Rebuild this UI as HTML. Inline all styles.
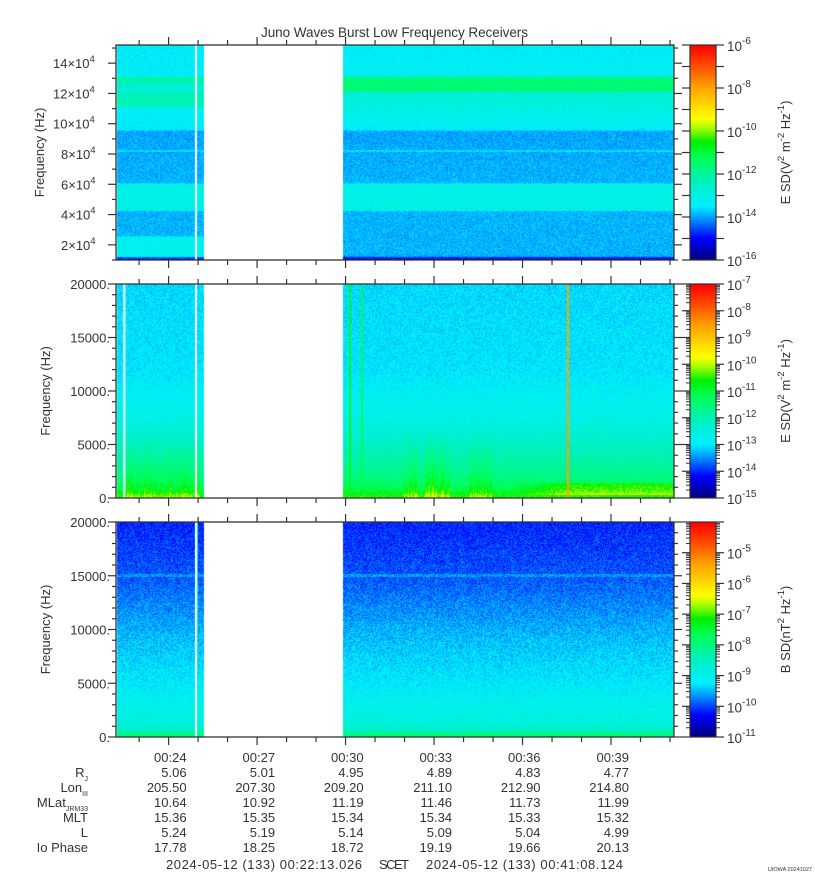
<!DOCTYPE html>
<html><head><meta charset="utf-8">
<style>
body{margin:0;background:#fff;width:815px;height:880px;overflow:hidden;position:relative;font-family:"Liberation Sans","DejaVu Sans",sans-serif;}
canvas{position:absolute;}
svg{position:absolute;left:0;top:0;}
text{font-family:"Liberation Sans","DejaVu Sans",sans-serif;fill:#333;}
</style></head>
<body>
<canvas id="c1" width="558" height="215" style="left:116px;top:45px"></canvas>
<canvas id="c2" width="558" height="214" style="left:116px;top:284px"></canvas>
<canvas id="c3" width="558" height="215" style="left:116px;top:522px"></canvas>
<canvas id="cb1" width="26" height="215" style="left:690px;top:45px"></canvas>
<canvas id="cb2" width="26" height="214" style="left:690px;top:284px"></canvas>
<canvas id="cb3" width="26" height="215" style="left:690px;top:522px"></canvas>
<svg id="svg" width="815" height="880"></svg>
<script>
// ---- data ----
const T_TOTAL = 1135.1; // seconds 00:22:13.026 -> 00:41:08.124
const gapStart = 179, gapEnd = 462, whiteLine = 163, whiteLine2 = 17;
const timeLabels = ["00:24","00:27","00:30","00:33","00:36","00:39"];
const timeLabelSecs = [107,287,467,647,827,1007];
const rowRj = ["5.06","5.01","4.95","4.89","4.83","4.77"];
const rowLon = ["205.50","207.30","209.20","211.10","212.90","214.80"];
const rowMlat = ["10.64","10.92","11.19","11.46","11.73","11.99"];
const rowMlt = ["15.36","15.35","15.34","15.34","15.33","15.32"];
const rowL = ["5.24","5.19","5.14","5.09","5.04","4.99"];
const rowIo = ["17.78","18.25","18.72","19.19","19.66","20.13"];
// panel 1 profiles: frequency (Hz) -> log10 E SD
const p1Freq =       [10000, 11500, 12500, 25000, 26000, 42000, 43000, 57000, 58000, 60000, 61000, 95000, 96000, 110000, 112000, 120000, 122000, 130000, 132000, 152000];
const p1EarlyLevel = [-15.0, -14.5, -13.2, -13.2, -13.9, -13.9, -13.0, -13.1, -13.0, -13.2, -13.9, -14.0, -13.4, -13.3, -12.3, -12.3, -13.0, -12.0, -13.4, -13.4];
const p1LateLevel  = [-15.2, -14.8, -13.9, -13.9, -13.9, -13.9, -13.0, -13.1, -13.0, -13.2, -13.9, -14.0, -13.4, -13.0, -12.9, -12.8, -11.6, -11.6, -13.3, -13.4];
// panel 2 profile
const p2Freq  = [0, 250, 600, 1200, 2000, 3500, 5500, 8000, 12000, 20000];
const p2Level = [-10.5, -10.6, -11.0, -11.3, -11.6, -11.9, -12.3, -12.7, -13.0, -13.1];
const p2BurstStart = [16, 586, 628, 720];
const p2BurstEnd   = [170, 614, 679, 765];
const p2BurstBoost = [0.6, 0.8, 0.9, 0.8];
const p2LineTimes = [476, 500, 919];
const p2LineLevel = [-10.8, -11.2, -8.6];
const p2LateBandStart = 800, p2LateBandBoost = 0.7;
// panel 3 profile
const p3Freq  = [0, 350, 600, 1500, 5000, 10000, 15000, 20000];
const p3Level = [-7.9, -8.0, -8.6, -8.85, -9.2, -9.55, -9.95, -10.15];
const cbRange = [[-16,-6],[-15,-7],[-11,-4]];

// ---- colormap ----
const stops=[[0,[0,0,128]],[0.1,[0,0,255]],[0.19,[0,150,255]],[0.25,[0,240,255]],[0.35,[0,240,200]],[0.48,[0,255,80]],[0.55,[0,240,0]],[0.62,[180,255,0]],[0.66,[255,255,0]],[0.8,[255,165,0]],[0.9,[255,80,0]],[1,[255,0,0]]];
function cmap(v){v=Math.max(0,Math.min(1,v));for(let i=1;i<stops.length;i++){if(v<=stops[i][0]){const a=stops[i-1],b=stops[i];const u=(v-a[0])/(b[0]-a[0]);return [0,1,2].map(k=>Math.round(a[1][k]+(b[1][k]-a[1][k])*u));}}return [255,0,0];}
function interp(xs,ys,x){if(x<=xs[0])return ys[0];for(let i=1;i<xs.length;i++){if(x<=xs[i]){const u=(x-xs[i-1])/(xs[i]-xs[i-1]);return ys[i-1]+(ys[i]-ys[i-1])*u;}}return ys[ys.length-1];}
function hash(x,y){let h=(x*374761393+y*668265263)|0;h=(h^(h>>>13))*1274126177|0;return ((h^(h>>>16))>>>0)/4294967295*2-1;}

const W=558;
const tOf=px=>px/W*T_TOTAL;
function inGap(t){return (t>=gapStart&&t<gapEnd);}
function drawPanel(id,fMin,fMax,range,levelFn,noiseAmp){
  const c=document.getElementById(id),ctx=c.getContext('2d'),H=c.height;
  const img=ctx.createImageData(W,H);
  for(let px=0;px<W;px++){
    const t=tOf(px+0.5);
    for(let py=0;py<H;py++){
      const i=(py*W+px)*4;
      let white = px<1 || inGap(t) || Math.abs(t-whiteLine)<2.2;
      if(white){img.data[i]=img.data[i+1]=img.data[i+2]=255;img.data[i+3]=255;continue;}
      const f=fMax-(py+0.5)/H*(fMax-fMin);
      let lv=levelFn(t,f,px,py)+noiseAmp*hash(px,py+H*7);
      const col=cmap((lv-range[0])/(range[1]-range[0]));
      img.data[i]=col[0];img.data[i+1]=col[1];img.data[i+2]=col[2];img.data[i+3]=255;
    }
  }
  ctx.putImageData(img,0,0);
}
drawPanel('c1',10000,152000,cbRange[0],(t,f,px)=>{
  const prof = t<gapStart ? p1EarlyLevel : p1LateLevel;
  let v=interp(p1Freq,prof,f);
  if(Math.abs(f-82000)<400) v+=0.4;
  return v;
},0.3);
drawPanel('c2',0,20000,cbRange[1],(t,f,px)=>{
  let v=interp(p2Freq,p2Level,f);
  for(let k=0;k<p2BurstStart.length;k++){
    if(t>=p2BurstStart[k]&&t<=p2BurstEnd[k]){const dec=Math.max(0,1-f/7000);const s=0.5+0.5*hash(px,3);v+=p2BurstBoost[k]*dec*(0.3+0.9*s*s);}
  }
  if(t>p2LateBandStart&&f>300&&f<1400) v+=p2LateBandBoost*Math.min(1,(t-p2LateBandStart)/120);
  for(let k=0;k<p2LineTimes.length;k++){if(Math.abs(t-p2LineTimes[k])<2.2) v=Math.max(v,p2LineLevel[k]);}
  return v;
},0.3);
drawPanel('c3',0,20000,cbRange[2],(t,f,px)=>{
  let v=interp(p3Freq,p3Level,f);
  if(Math.abs(f-15000)<150) v+=0.3;
  if(Math.abs(t-whiteLine-3)<1.5) v=Math.max(v,-8.2);
  return v;
},0.3);
(function(){const c=document.getElementById('c2'),ctx=c.getContext('2d');ctx.fillStyle='#fff';const x=whiteLine2/T_TOTAL*W;ctx.fillRect(x-1,0,2,c.height);})();
['cb1','cb2','cb3'].forEach(id=>{const c=document.getElementById(id),ctx=c.getContext('2d');for(let y=0;y<c.height;y++){const col=cmap(1-y/(c.height-1));ctx.fillStyle=`rgb(${col})`;ctx.fillRect(0,y,26,1);}});

// ---- SVG overlay ----
const svg=document.getElementById('svg');const NS='http://www.w3.org/2000/svg';
function el(tag,attrs,parent){const e=document.createElementNS(NS,tag);for(const k in attrs)e.setAttribute(k,attrs[k]);(parent||svg).appendChild(e);return e;}
const X=t=>116+t/T_TOTAL*W;
function txt(x,y,s,anchor,size,name,parent){const e=el('text',{x:x,y:y,'text-anchor':anchor||'start','font-size':size||12},parent);e.textContent=s;return e;}
const ttl=txt(261,37,"Juno Waves Burst Low Frequency Receivers",'start',13.5,'chart-title');
ttl.setAttribute('textLength','267');
const panels=[{top:45,bot:260},{top:284,bot:498},{top:522,bot:737}];
panels.forEach((p,pi)=>{
  const g=el('g',{});
  
  
  el('rect',{x:116,y:p.top,width:558,height:p.bot-p.top,fill:'none',stroke:'#333','stroke-width':1.3},g);
  el('rect',{x:690,y:p.top,width:26,height:p.bot-p.top,fill:'none',stroke:'#333','stroke-width':1.2},g);
  for(let m=23;m<=41;m++){const t=(m-22)*60-13.026;if(t<0||t>T_TOTAL)continue;const x=X(t);const maj=(m%3===0);const L=maj?8:5;
    el('line',{x1:x,y1:p.top,x2:x,y2:p.top-L,stroke:'#333','stroke-width':1.2},g);
    el('line',{x1:x,y1:p.bot,x2:x,y2:p.bot+L,stroke:'#333','stroke-width':1.2},g);}
});
function yAxis(pi,fMin,fMax,majors,labels,minorStep,supLabels){
  const p=panels[pi];const Y=f=>p.bot-(f-fMin)/(fMax-fMin)*(p.bot-p.top);
  const g=el('g',{});
  for(let f=Math.ceil(fMin/minorStep)*minorStep;f<=fMax;f+=minorStep){const y=Y(f);const maj=majors.includes(f);const L=maj?8:4;
    el('line',{x1:116,y1:y,x2:116-L,y2:y,stroke:'#333','stroke-width':1.2},g);
    el('line',{x1:674,y1:y,x2:674+L,y2:y,stroke:'#333','stroke-width':1.2},g);}
  majors.forEach((f,i)=>{const y=Y(f)+5;
    if(supLabels){const x0=labels[i].length>1?53:61;const t=el('text',{x:x0,y:y,'font-size':13},g);
      t.innerHTML=labels[i]+'×10<tspan font-size="9.5" dy="-6">4</tspan>';}
    else txt(110,y,labels[i],'end',13,'y-tick-label',g);});
  const yc=(p.top+p.bot)/2;const t=el('text',{x:0,y:0,'text-anchor':'middle','font-size':13,transform:`translate(${pi===0?44:50},${yc}) rotate(-90)`},g);t.textContent='Frequency (Hz)';
}
yAxis(0,10000,152000,[20000,40000,60000,80000,100000,120000,140000],["2","4","6","8","10","12","14"],10000,true);
yAxis(1,0,20000,[0,5000,10000,15000,20000],["0.","5000.","10000.","15000.","20000."],1000,false);
yAxis(2,0,20000,[0,5000,10000,15000,20000],["0.","5000.","10000.","15000.","20000."],1000,false);
function cbAxis(pi,lo,hi,labelExps,minors,titleHTML){
  const p=panels[pi];const Y=v=>p.bot-(v-lo)/(hi-lo)*(p.bot-p.top);
  const g=el('g',{});
  for(let d=Math.floor(lo);d<=hi;d++){
    if(d>=lo&&d<=hi){const y=Y(d);el('line',{x1:716,y1:y,x2:724,y2:y,stroke:'#333','stroke-width':1.2},g);el('line',{x1:690,y1:y,x2:682,y2:y,stroke:'#333','stroke-width':1.2},g);}
    if(minors)for(let k=2;k<10;k++){const v=d+Math.log10(k);if(v>lo&&v<hi){const y=Y(v);el('line',{x1:716,y1:y,x2:720,y2:y,stroke:'#333','stroke-width':1},g);el('line',{x1:690,y1:y,x2:686,y2:y,stroke:'#333','stroke-width':1},g);}}
  }
  labelExps.forEach(e=>{const t=el('text',{x:727,y:Y(e)+6,'font-size':13.5},g);t.innerHTML='10<tspan font-size="10" dy="-7">'+e+'</tspan>';});
  const yc=(p.top+p.bot)/2;const t=el('text',{x:0,y:0,'text-anchor':'middle','font-size':13,transform:`translate(790,${yc}) rotate(-90)`},g);t.innerHTML=titleHTML;
}
const eTitle='E SD(V<tspan font-size="9.5" dy="-6">2</tspan><tspan dy="6"> m</tspan><tspan font-size="9.5" dy="-6">-2</tspan><tspan dy="6"> Hz</tspan><tspan font-size="9.5" dy="-6">-1</tspan><tspan dy="6">)</tspan>';
cbAxis(0,-16,-6,[-6,-8,-10,-12,-14,-16],false,eTitle);
cbAxis(1,-15,-7,[-7,-8,-9,-10,-11,-12,-13,-14,-15],true,eTitle);
cbAxis(2,-11,-4,[-5,-6,-7,-8,-9,-10,-11],true,'B SD(nT<tspan font-size="9.5" dy="-6">2</tspan><tspan dy="6"> Hz</tspan><tspan font-size="9.5" dy="-6">-1</tspan><tspan dy="6">)</tspan>');
const rows=[rowRj,rowLon,rowMlat,rowMlt,rowL,rowIo];
timeLabels.forEach((s,i)=>txt(X(timeLabelSecs[i])+18,762,s,'end',13,'x-tick-label'));
rows.forEach((r,ri)=>r.forEach((s,i)=>txt(X(timeLabelSecs[i])+18,777+ri*15,s,'end',13,'ephemeris-value')));
const lbl=[['R','J'],['Lon','III'],['MLat','JRM33'],['MLT',''],['L',''],['Io Phase','']];
lbl.forEach((l,ri)=>{const t=el('text',{x:88,y:777+ri*15,'text-anchor':'end','font-size':13});t.innerHTML=l[0]+(l[1]?'<tspan font-size="7" dy="4">'+l[1]+'</tspan>':'');});
const f1=txt(166,869,"2024-05-12 (133) 00:22:13.026",'start',13,'start-time-footer');f1.setAttribute('textLength','196');
const f2=txt(379,869,"SCET",'start',13,'scet-label');f2.setAttribute('textLength','30');
const f3=txt(426,869,"2024-05-12 (133) 00:41:08.124",'start',13,'end-time-footer');f3.setAttribute('textLength','197');
txt(812,871,"UIOWA 20241027",'end',5.5,'credit-label');
</script>
</body></html>
